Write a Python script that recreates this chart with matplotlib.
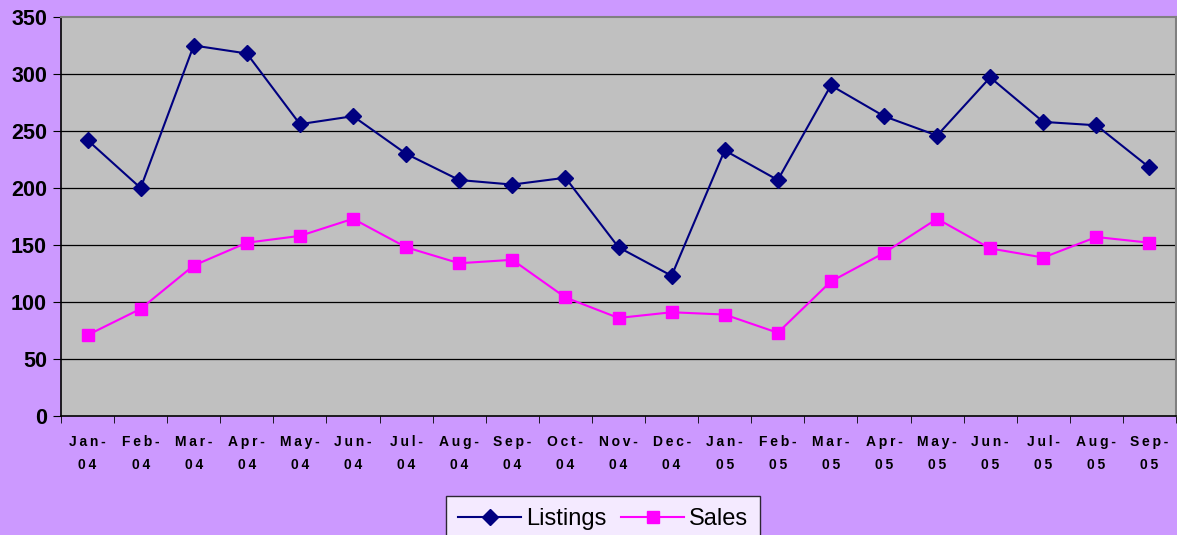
import matplotlib
matplotlib.use("Agg")
import matplotlib.pyplot as plt
import numpy as np

months = ["Jan-\n04", "Feb-\n04", "Mar-\n04", "Apr-\n04", "May-\n04", "Jun-\n04", "Jul-\n04",
          "Aug-\n04", "Sep-\n04", "Oct-\n04", "Nov-\n04", "Dec-\n04", "Jan-\n05", "Feb-\n05",
          "Mar-\n05", "Apr-\n05", "May-\n05", "Jun-\n05", "Jul-\n05", "Aug-\n05", "Sep-\n05"]
listings = [242, 200, 325, 318, 256, 263, 230, 207, 203, 209, 148, 123, 233, 207,
            290, 263, 246, 297, 258, 255, 218]
sales = [71, 94, 132, 152, 158, 173, 148, 134, 137, 104, 86, 91, 89, 73,
         118, 143, 173, 147, 139, 157, 152]
yticks = [0, 50, 100, 150, 200, 250, 300, 350]

plt.rcParams['font.family'] = ['Liberation Sans', 'DejaVu Sans']

fig = plt.figure(figsize=(11.77, 5.35), dpi=100, facecolor="#CC99FF")
ax = fig.add_axes([61/1177, 119/535, 1115/1177, 399/535])
ax.set_facecolor("#C0C0C0")

x = np.arange(len(months))
ax.plot(x, listings, color="#000080", lw=1.5, marker="D", ms=8.5, mfc="#000080", mec="#000080", label="Listings", zorder=3)
ax.plot(x, sales, color="#FF00FF", lw=1.5, marker="s", ms=8.5, mfc="#FF00FF", mec="#FF00FF", label="Sales", zorder=3)

ax.set_xlim(-0.5, len(months) - 0.5)
ax.set_ylim(0, 350)
ax.set_yticks(yticks)
ax.set_yticklabels([str(v) for v in yticks], fontsize=15.5, fontweight="bold")
for v in yticks[1:-1]:
    ax.axhline(v, color="black", lw=0.9, zorder=1)

def spaced(s):
    return "\n".join("\u2009".join(part) for part in s.split("\n"))

ax.set_xticks(x)
ax.set_xticklabels([spaced(m) for m in months], fontsize=10, fontweight="bold", linespacing=1.75)
ax.set_xticks(np.arange(-0.5, len(months), 1), minor=True)
ax.tick_params(axis="x", which="major", length=0, pad=14)
ax.tick_params(axis="x", which="minor", length=5, color="black")
ax.tick_params(axis="y", length=6, color="black", pad=4)

for s in ["top", "right"]:
    ax.spines[s].set_color("#808080")
    ax.spines[s].set_linewidth(1.5)
for s in ["left", "bottom"]:
    ax.spines[s].set_color("black")
    ax.spines[s].set_linewidth(1.2)

leg = fig.legend(loc="upper center", bbox_to_anchor=(603/1177, 1 - 496/535), ncol=2,
                 fontsize=17, frameon=True, fancybox=False, edgecolor="black",
                 handlelength=2.7, columnspacing=0.6, handletextpad=0.2, borderpad=0.5,
                 borderaxespad=0)
leg.get_frame().set_facecolor("white")
leg.get_frame().set_linewidth(1.0)

fig.savefig("out.png", dpi=100, facecolor=fig.get_facecolor())
